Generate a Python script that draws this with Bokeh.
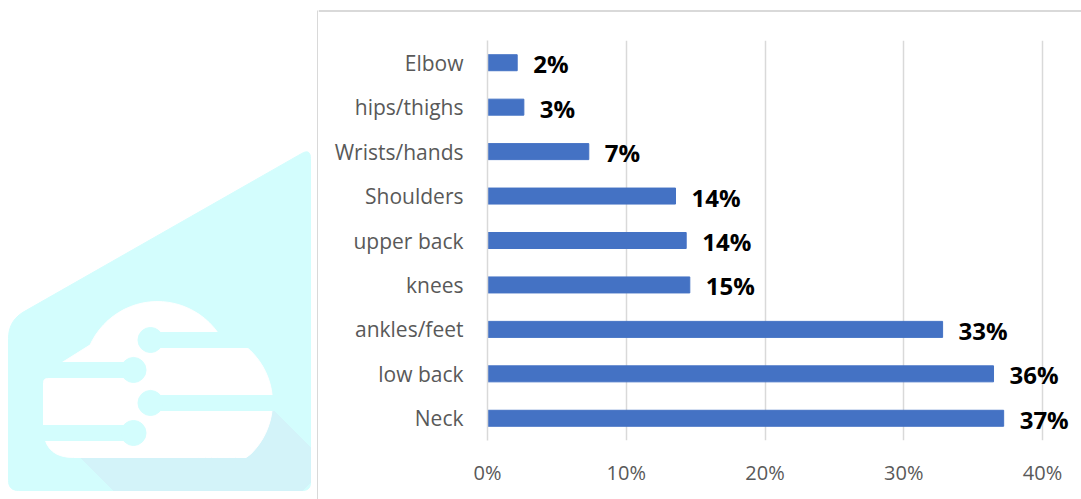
import numpy as np
from bokeh.plotting import figure
from bokeh.layouts import row, column
from bokeh.models import ColumnDataSource, FactorRange, Range1d, FixedTicker
from bokeh.core.properties import value
from bokeh.embed import file_html
from bokeh.resources import INLINE

# ---- data -------------------------------------------------------------
regions = ["Neck", "low back", "ankles/feet", "knees", "upper back",
           "Shoulders", "Wrists/hands", "hips/thighs", "Elbow"]
shares = [37.2, 36.47, 32.8, 14.58, 14.32, 13.55, 7.3, 2.62, 2.14]
share_labels = [f"{round(v)}%" for v in shares]
x_ticks = [0, 10, 20, 30, 40]
tick_labels = [f"{t}%" for t in x_ticks]

BAR = "#4472c4"
GRID = "#d9d9d9"
AXIS_TEXT = "#595959"
FONT = "Open Sans"

# ---- main bar chart ---------------------------------------------------
src = ColumnDataSource(dict(region=regions, share=shares, label=share_labels))

p = figure(width=763, height=487,
           y_range=FactorRange(factors=regions, range_padding=0),
           x_range=Range1d(0, 42.81),
           output_backend="svg", toolbar_location=None,
           min_border_left=169, min_border_right=0,
           min_border_top=28, min_border_bottom=59)
p.frame_align = False

p.hbar(y="region", left=0, right="share", height=0.36, color=BAR, source=src)
p.text(x="share", y="region", text="label", source=src,
       x_offset=16, y_offset=1, text_align="left", text_baseline="middle",
       text_font=value(FONT), text_font_style="bold",
       text_font_size="24px", text_color="black")

p.xaxis.ticker = FixedTicker(ticks=x_ticks)
p.xaxis.major_label_overrides = dict(zip(x_ticks, tick_labels))
p.xaxis.axis_line_color = None
p.xaxis.major_tick_line_color = None
p.xaxis.minor_tick_line_color = None
p.xaxis.major_label_standoff = 12
p.xaxis.major_label_text_font = FONT
p.xaxis.major_label_text_font_size = "20px"
p.xaxis.major_label_text_color = AXIS_TEXT

p.yaxis.axis_line_color = GRID
p.yaxis.axis_line_width = 1.5
p.yaxis.major_tick_line_color = None
p.yaxis.minor_tick_line_color = None
p.yaxis.major_label_standoff = 18
p.yaxis.major_label_text_font = FONT
p.yaxis.major_label_text_font_size = "21px"
p.yaxis.major_label_text_color = AXIS_TEXT

p.xgrid.grid_line_color = GRID
p.xgrid.grid_line_width = 1.5
p.ygrid.grid_line_color = None
p.outline_line_color = None

# thin strip carrying the top edge of the chart-area border
strip = figure(width=763, height=12, x_range=Range1d(0, 763), y_range=Range1d(12, 0),
               output_backend="svg", toolbar_location=None, min_border=0,
               x_axis_location=None, y_axis_location=None)
strip.frame_align = False
strip.grid.visible = False
strip.outline_line_color = None
strip.segment(x0=[0], y0=[10.5], x1=[763], y1=[10.5], line_color=GRID, line_width=2)

# ---- logo panel on the left --------------------------------------------
def rounded(pts, radii, steps=10):
    pts = np.asarray(pts, float)
    xs, ys = [], []
    n = len(pts)
    for i in range(n):
        p0, p1, p2 = pts[i - 1], pts[i], pts[(i + 1) % n]
        r = radii[i]
        a = p1 + (p0 - p1) / np.linalg.norm(p0 - p1) * r
        b = p1 + (p2 - p1) / np.linalg.norm(p2 - p1) * r
        t = np.linspace(0, 1, steps)[:, None]
        c = (1 - t) ** 2 * a + 2 * (1 - t) * t * p1 + t ** 2 * b
        xs.extend(c[:, 0]); ys.extend(c[:, 1])
    return xs, ys


def disc(cx, cy, r, floor=None, steps=72):
    t = np.linspace(0, 2 * np.pi, steps)
    x = cx + r * np.cos(t)
    y = cy + r * np.sin(t)
    if floor is not None:
        y = np.minimum(y, floor)
    return list(x), list(y)


CYAN = "#d3fdfd"
SHADE = "#d3f3f9"

w = figure(width=318, height=499, x_range=Range1d(0, 318), y_range=Range1d(499, 0),
           output_backend="svg", toolbar_location=None, min_border=0,
           x_axis_location=None, y_axis_location=None)
w.frame_align = False
w.grid.visible = False
w.outline_line_color = None

ox, oy = rounded([(8, 490), (310, 490), (310, 148), (8, 320)], [10, 8, 10, 18])
w.patch(ox, oy, color=CYAN)

w.patch([80, 113, 302, 310, 310, 273, 200], [457, 490, 490, 482, 447, 410, 400], color=SHADE)

cloud_x, cloud_y = [], []
for cx, cy, r in [(157, 375, 74), (200, 402, 72)]:
    bx, by = disc(cx, cy, r, floor=457)
    cloud_x.append(bx); cloud_y.append(by)
rx, ry = rounded([(43, 378), (200, 378), (200, 457), (43, 457)], [4, 4, 4, 30])
cloud_x.append(rx); cloud_y.append(ry)
cloud_x.append([60, 95, 110, 60]); cloud_y.append([363, 341, 380, 380])
w.patches(cloud_x, cloud_y, color="white")

trace_y = [339.5, 369.5, 402.5, 432.5]
trace_left = [150, 30, 150, 30]
trace_right = [250, 133, 275, 133]
node_x = [150, 133, 150, 133]
w.hbar(y=trace_y, left=trace_left, right=trace_right, height=15, color=CYAN)
w.circle(x=node_x, y=trace_y, radius=12.5, color=CYAN)

w.segment(x0=[317.5], y0=[10], x1=[317.5], y1=[499], line_color=GRID, line_width=2)

layout = row(w, column(strip, p, spacing=0), spacing=0)
open("out.html", "w").write(file_html(layout, INLINE))
